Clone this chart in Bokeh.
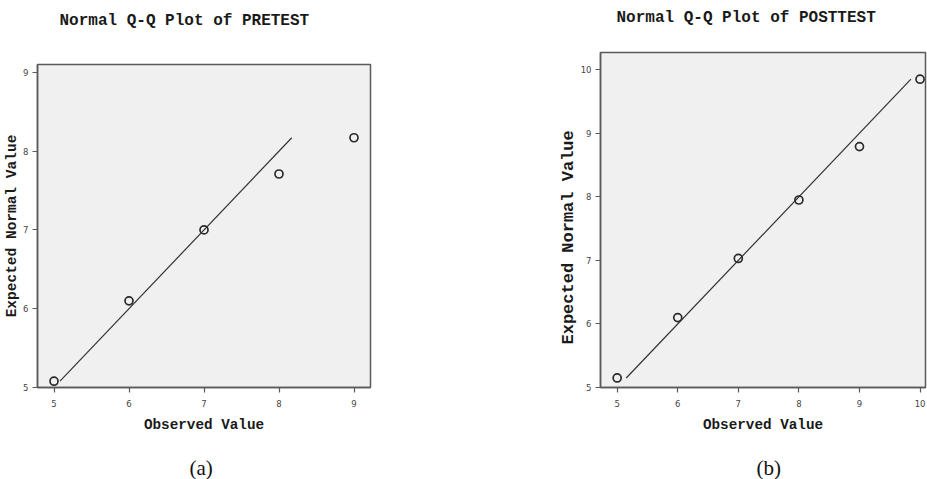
from bokeh.plotting import figure
from bokeh.layouts import row, column
from bokeh.models import Range1d, FixedTicker, Title
from bokeh.embed import file_html
from bokeh.resources import INLINE

# ---- data ----
pre_observed = [5, 6, 7, 8, 9]
pre_expected = [5.08, 6.10, 7.00, 7.71, 8.17]
pre_ticks_x = [5, 6, 7, 8, 9]
pre_ticks_y = [5, 6, 7, 8, 9]

post_observed = [5, 6, 7, 8, 9, 10]
post_expected = [5.15, 6.10, 7.03, 7.95, 8.79, 9.85]
post_ticks_x = [5, 6, 7, 8, 9, 10]
post_ticks_y = [5, 6, 7, 8, 9, 10]

MONO = "Liberation Mono"
SANS = "DejaVu Sans"
SERIF = "Liberation Serif"
FRAME = "#5a5a5a"
TXT = "#1a1a1a"
YLABEL = "Expected Normal Value"
XLABEL = "Observed Value"


def spacer(gap):
    return Title(text=" ", text_font_size="1px", standoff=gap)


def make_panel(obs, exp, xt, yt, xr, yr, width, height, borders,
               title, tfs, toff, top_gap, ylab_fs, ylab_off, sub, sub_off, bottom_gap):
    bl, br, bt, bb = borders
    p = figure(width=width, height=height, x_range=Range1d(*xr), y_range=Range1d(*yr),
               output_backend="svg", toolbar_location=None, title=None,
               min_border_left=bl, min_border_right=br, min_border_top=bt,
               min_border_bottom=bb)
    p.background_fill_color = "#f0f0f0"
    p.border_fill_color = "white"
    p.outline_line_color = FRAME
    p.outline_line_width = 1.5
    p.grid.visible = False

    for ax in (p.xaxis[0], p.yaxis[0]):
        ax.axis_line_color = FRAME
        ax.axis_line_width = 1.5
        ax.major_tick_line_color = FRAME
        ax.major_tick_line_width = 1.2
        ax.major_tick_out = 5
        ax.major_tick_in = 0
        ax.minor_tick_line_color = None
        ax.major_label_text_font = SANS
        ax.major_label_text_font_size = "8.5px"
        ax.major_label_text_color = "#444444"
        ax.axis_label_text_font = MONO
        ax.axis_label_text_font_style = "bold"
        ax.axis_label_text_color = TXT
    p.xaxis[0].ticker = FixedTicker(ticks=xt)
    p.yaxis[0].ticker = FixedTicker(ticks=yt)
    p.xaxis[0].major_label_standoff = 7
    p.yaxis[0].major_label_standoff = 4
    p.xaxis[0].axis_label = XLABEL
    p.xaxis[0].axis_label_text_font_size = "14.3px"
    p.xaxis[0].axis_label_standoff = 7

    if ylab_off is None:
        p.yaxis[0].axis_label = YLABEL
        p.yaxis[0].axis_label_text_font_size = ylab_fs
        p.yaxis[0].axis_label_standoff = 0
    else:
        p.add_layout(Title(text=YLABEL, text_font=MONO, text_font_size=ylab_fs,
                           text_font_style="bold", text_color=TXT, align="left",
                           offset=ylab_off, standoff=0), "left")

    lo, hi = min(exp), max(exp)
    p.line([lo, hi], [lo, hi], line_color="#333333", line_width=1.2)
    p.scatter(obs, exp, marker="circle", size=8, fill_color=None,
              line_color="#2a2a2a", line_width=1.7)

    # titles above (nearest to frame first)
    p.add_layout(spacer(top_gap), "above")
    p.add_layout(Title(text=title, text_font=MONO, text_font_size=tfs,
                       text_font_style="bold", text_color=TXT, align="left",
                       offset=toff, standoff=10), "above")
    # caption below
    p.add_layout(spacer(bottom_gap), "below")
    p.add_layout(Title(text=sub, text_font=SERIF, text_font_size="21px",
                       text_font_style="normal", text_color="#111111",
                       align="left", offset=sub_off, standoff=0), "below")
    return p


# left panel: frame at x 37..370, y 64..389
p1 = make_panel(pre_observed, pre_expected, pre_ticks_x, pre_ticks_y,
                (4.78, 9.22), (5, 9.1), 556, 479, (37, 186, 64, 90),
                "Normal Q-Q Plot of PRETEST", "16px", 22, 27, "14.5px", None,
                "(a)", 152, 15)
# right panel: frame at x 600..925, y 52..388
p2 = make_panel(post_observed, post_expected, post_ticks_x, post_ticks_y,
                (4.725, 10.09), (5, 10.27), 371, 479, (44, 2, 52, 91),
                "Normal Q-Q Plot of POSTTEST", "16px", 16, 18, "17px", 43,
                "(b)", 156, 15)

layout = row(column(p1), column(p2))
open("out.html", "w").write(file_html(layout, INLINE))
